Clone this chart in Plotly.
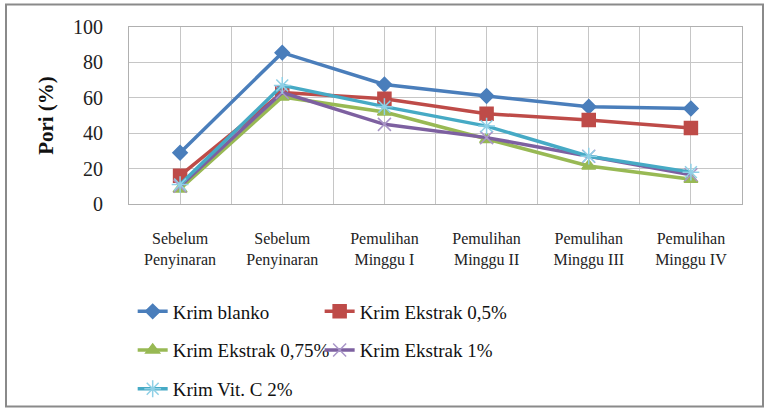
import plotly.graph_objects as go

categories = ["Sebelum<br>Penyinaran", "Sebelum<br>Penyinaran", "Pemulihan<br>Minggu I",
              "Pemulihan<br>Minggu II", "Pemulihan<br>Minggu III", "Pemulihan<br>Minggu IV"]
series_names = ["Krim blanko", "Krim Ekstrak 0,5%", "Krim Ekstrak 0,75%", "Krim Ekstrak 1%", "Krim Vit. C 2%"]
blanko = [29, 85.5, 67.5, 61, 55, 54]
ekstrak_05 = [16, 63, 59.5, 51, 47.5, 43]
ekstrak_075 = [8.5, 60.5, 52, 36.5, 21.5, 14]
ekstrak_1 = [10, 63, 45, 37.5, 27, 16.5]
vit_c = [11, 67, 55, 44, 27, 18]

values = [blanko, ekstrak_05, ekstrak_075, ekstrak_1, vit_c]
colors = ["#4A7EBB", "#BE4B48", "#98B954", "#7D60A0", "#46AAC5"]
marker_colors = ["#4A7EBB", "#BE4B48", "#98B954", "#A996C8", "#8FD0E6"]
symbols = ["diamond", "square", "triangle-up", "x-thin", "asterisk"]
sizes = [11, 13, 12, 13, 14]
legends = ["legend", "legend2", "legend", "legend2", "legend"]

x_idx = list(range(len(categories)))
FONT = "'Liberation Serif', 'Times New Roman', Times, serif"

fig = go.Figure()
for name, vals, c, mc, sym, sz, lg in zip(series_names, values, colors, marker_colors, symbols, sizes, legends):
    fig.add_trace(go.Scatter(
        x=x_idx, y=vals, name=name, mode="lines+markers",
        line=dict(color=c, width=3.5),
        marker=dict(symbol=sym, size=sz, color=mc, line=dict(color=mc, width=1.5)),
        legend=lg, legendgroup=name,
    ))

grid = "#C6C6C6"
fig.update_layout(
    width=769, height=420,
    margin=dict(l=129, r=27, t=27, b=212),
    paper_bgcolor="white", plot_bgcolor="white",
    font=dict(family=FONT, color="#111111"),
    xaxis=dict(
        range=[-0.5, 5.5], tickmode="array", tickvals=x_idx, ticktext=categories,
        showgrid=True, gridcolor=grid, gridwidth=1,
        minor=dict(dtick=0.5, tick0=-0.5, showgrid=True, gridcolor=grid, gridwidth=1),
        showline=True, linecolor="#B0B0B0", mirror=True, zeroline=False,
        tickfont=dict(family=FONT, size=16, color="#222222"), ticklabelstandoff=20,
    ),
    yaxis=dict(
        range=[0, 100], dtick=20, showgrid=True, gridcolor=grid, gridwidth=1,
        showline=True, linecolor="#B0B0B0", mirror=True, zeroline=False,
        tickfont=dict(family=FONT, size=20, color="#222222"), ticklabelstandoff=21,
        title=dict(text="<b>Pori (%)</b>", font=dict(family=FONT, size=21, color="#111111"), standoff=13),
    ),
    legend=dict(x=0.006, y=-0.5, xanchor="left", yanchor="top", orientation="v",
                font=dict(family=FONT, size=19, color="#111111"), tracegroupgap=11,
                bgcolor="rgba(0,0,0,0)", itemwidth=30),
    legend2=dict(x=0.311, y=-0.5, xanchor="left", yanchor="top", orientation="v",
                 font=dict(family=FONT, size=19, color="#111111"), tracegroupgap=11,
                 bgcolor="rgba(0,0,0,0)", itemwidth=30),
    shapes=[dict(type="rect", xref="paper", yref="paper",
                 x0=(6 - 129) / 613, x1=(763 - 129) / 613,
                 y0=(208 - 415) / 181, y1=(208 - 4) / 181,
                 line=dict(color="#8A8A8A", width=2), layer="below")],
)

fig.write_html("out.html")
